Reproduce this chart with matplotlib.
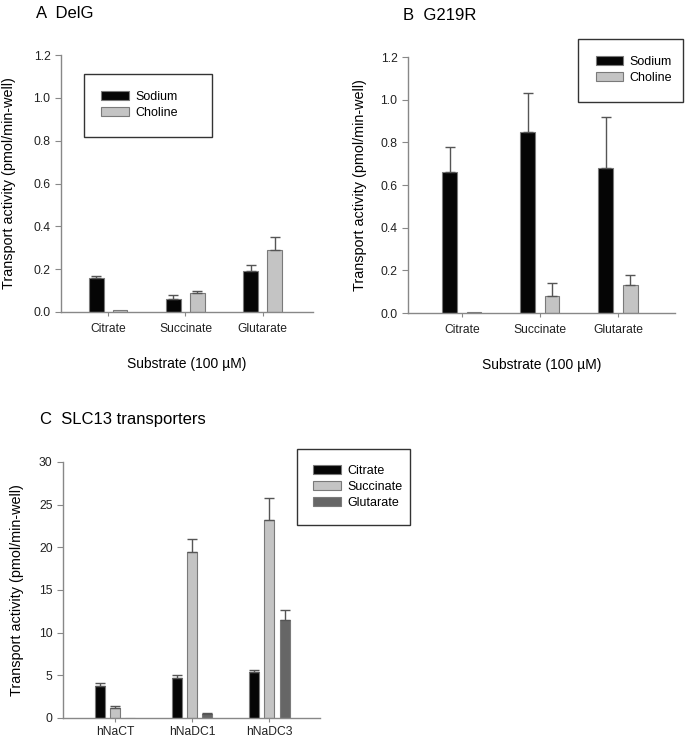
import numpy as np
import matplotlib.pyplot as plt

plt.rcParams['font.family'] = ['Liberation Sans', 'DejaVu Sans']

# panel A / B data
substrates = ["Citrate", "Succinate", "Glutarate"]
delg_sodium = [0.16, 0.06, 0.19]
delg_sodium_err = [0.01, 0.02, 0.03]
delg_choline = [0.01, 0.09, 0.29]
delg_choline_err = [0.0, 0.01, 0.06]

g219r_sodium = [0.66, 0.85, 0.68]
g219r_sodium_err = [0.12, 0.18, 0.24]
g219r_choline = [0.005, 0.08, 0.13]
g219r_choline_err = [0.0, 0.06, 0.05]

# panel C data
transporters = ["hNaCT", "hNaDC1", "hNaDC3"]
citrate = [3.8, 4.7, 5.4]
citrate_err = [0.3, 0.3, 0.2]
succinate = [1.2, 19.4, 23.2]
succinate_err = [0.15, 1.6, 2.6]
glutarate = [0.0, 0.5, 11.5]
glutarate_err = [0.0, 0.1, 1.2]

axis_col = "#888888"
edge_col = "#7a7a7a"
err_col = "#555555"
black = "#050505"
light = "#c4c4c4"
dark = "#666666"

W, H = 685, 739
fig = plt.figure(figsize=(W / 100, H / 100), dpi=100)

def style(ax, xpad=5):
    for s in ["top", "right"]:
        ax.spines[s].set_visible(False)
    for s in ["left", "bottom"]:
        ax.spines[s].set_color(axis_col)
        ax.spines[s].set_linewidth(1.0)
    ax.tick_params(axis="both", colors=axis_col, labelcolor="#222222", labelsize=8.7, length=4, width=0.8)
    ax.tick_params(axis="x", length=3, pad=xpad)

def bars(ax, x, vals, errs, color, label, width):
    ax.bar(x, vals, width, color=color, edgecolor=edge_col, linewidth=0.8, label=label, zorder=2)
    errs = np.array(errs)
    mask = errs > 0
    ax.errorbar(np.array(x)[mask], np.array(vals)[mask], yerr=[np.zeros(mask.sum()), errs[mask]],
                fmt="none", ecolor=err_col, elinewidth=1.0, capsize=3.5, capthick=1.0, zorder=3)

def legend(ax, anchor, pad):
    leg = ax.legend(loc="center", bbox_to_anchor=anchor, mode="expand", fontsize=9,
                    fancybox=False, edgecolor="#333333", framealpha=1, handlelength=2.2,
                    handleheight=0.75, handletextpad=0.5, borderpad=pad, labelspacing=0.32,
                    borderaxespad=0)
    leg.get_frame().set_linewidth(1.0)

def pair_panel(rect, sodium, sodium_err, choline, choline_err, xlim, leg_anchor, ylab_x):
    ax = fig.add_axes(rect)
    x = np.arange(len(substrates))
    w = 0.19
    bars(ax, x - 0.155, sodium, sodium_err, black, "Sodium", w)
    bars(ax, x + 0.155, choline, choline_err, light, "Choline", w)
    ax.set_xlim(*xlim)
    ax.set_ylim(0, 1.2)
    ticks = np.arange(0, 1.21, 0.2)
    ax.set_yticks(ticks)
    ax.set_yticklabels(["%.1f" % v for v in ticks])
    ax.set_xticks(x)
    ax.set_xticklabels(substrates)
    style(ax)
    ax.set_ylabel("Transport activity (pmol/min-well)", fontsize=10.4)
    ax.yaxis.set_label_coords(ylab_x, 0.5)
    ax.set_xlabel("Substrate (100 \u00b5M)", fontsize=10, labelpad=16)
    legend(ax, leg_anchor, 1.4)
    return ax

pair_panel([61 / W, 1 - 312 / H, 252 / W, 257 / H], delg_sodium, delg_sodium_err, delg_choline, delg_choline_err,
           (-0.61, 2.65), (0.091, 0.805, 0.508, 0.0), -0.179)
pair_panel([408 / W, 1 - 313 / H, 267 / W, 256 / H], g219r_sodium, g219r_sodium_err, g219r_choline, g219r_choline_err,
           (-0.69, 2.73), (0.637, 0.949, 0.393, 0.0), -0.154)

# panel C
ax = fig.add_axes([63 / W, 1 - 718 / H, 257 / W, 256 / H])
x = np.arange(len(transporters))
w = 0.13
bars(ax, x - 0.2, citrate, citrate_err, black, "Citrate", w)
bars(ax, x, succinate, succinate_err, light, "Succinate", w)
bars(ax, x + 0.2, glutarate, glutarate_err, dark, "Glutarate", w)
ax.set_xlim(-0.675, 2.66)
ax.set_ylim(0, 30)
ax.set_yticks(np.arange(0, 31, 5))
ax.set_xticks(x)
ax.set_xticklabels(transporters)
style(ax, xpad=3)
ax.set_ylabel("Transport activity (pmol/min-well)", fontsize=10.4)
ax.yaxis.set_label_coords(-0.152, 0.5)
legend(ax, (0.911, 0.902, 0.44, 0.0), 1.3)

# panel titles
fig.text(36 / W, 1 - 14 / H, "A  DelG", fontsize=12, va="center", ha="left")
fig.text(403 / W, 1 - 15 / H, "B  G219R", fontsize=12, va="center", ha="left")
fig.text(40 / W, 1 - 419 / H, "C  SLC13 transporters", fontsize=12, va="center", ha="left")

fig.savefig("out.png", dpi=100)
